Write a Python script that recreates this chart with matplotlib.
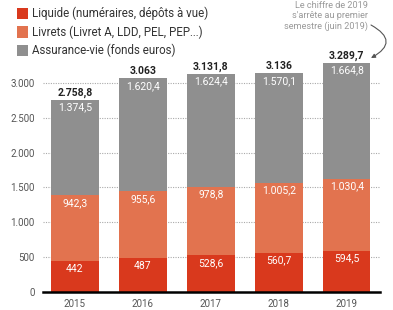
import matplotlib
matplotlib.use("Agg")
import matplotlib.pyplot as plt
from matplotlib.patches import Rectangle

plt.rcParams['font.family'] = ['Roboto', 'DejaVu Sans']

years = ["2015", "2016", "2017", "2018", "2019"]
liquide = [442, 487, 528.6, 560.7, 594.5]
livrets = [942.3, 955.6, 978.8, 1005.2, 1030.4]
assurance = [1374.5, 1620.4, 1624.4, 1570.1, 1664.8]
liquide_lbl = ["442", "487", "528,6", "560,7", "594,5"]
livrets_lbl = ["942,3", "955,6", "978,8", "1.005,2", "1.030,4"]
assurance_lbl = ["1.374,5", "1.620,4", "1.624,4", "1.570,1", "1.664,8"]
totals_lbl = ["2.758,8", "3.063", "3.131,8", "3.136", "3.289,7"]
yticks = [0, 500, 1000, 1500, 2000, 2500, 3000]
ytick_lbl = ["0", "500", "1.000", "1.500", "2.000", "2.500", "3.000"]
series_names = ["Liquide (numéraires, dépôts à vue)",
                "Livrets (Livret A, LDD, PEL, PEP...)",
                "Assurance-vie (fonds euros)"]
colors = ["#d9391d", "#e2734f", "#8f8f8f"]

W, H = 393, 310
fig = plt.figure(figsize=(W / 100, H / 100), dpi=100)
ax = fig.add_axes([43/W, 18/H, 337/W, 244/H])

x = list(range(len(years)))
w = 0.7
bottom2 = liquide
bottom3 = [a + b for a, b in zip(liquide, livrets)]
tops = [a + b for a, b in zip(bottom3, assurance)]

ax.bar(x, liquide, w, color=colors[0], zorder=2)
ax.bar(x, livrets, w, bottom=bottom2, color=colors[1], zorder=2)
ax.bar(x, assurance, w, bottom=bottom3, color=colors[2], zorder=2)

for i in x:
    ax.annotate(liquide_lbl[i], (i, liquide[i]), xytext=(0, -2), textcoords="offset points",
                ha="center", va="top", color="white", fontsize=7.5, zorder=3)
    ax.annotate(livrets_lbl[i], (i, bottom3[i]), xytext=(0, -2), textcoords="offset points",
                ha="center", va="top", color="white", fontsize=7.5, zorder=3)
    ax.annotate(assurance_lbl[i], (i, tops[i]), xytext=(0, -2), textcoords="offset points",
                ha="center", va="top", color="white", fontsize=7.5, zorder=3)
    ax.annotate(totals_lbl[i], (i, tops[i]), xytext=(0, 1.5), textcoords="offset points",
                ha="center", va="bottom", color="#222222", fontsize=7.5,
                fontweight="bold", zorder=3)

ax.set_xlim(-0.47, 4.49)
ax.set_ylim(0, 3500)
ax.set_yticks(yticks)
ax.set_yticklabels(ytick_lbl)
ax.set_xticks(x)
ax.set_xticklabels(years)
ax.tick_params(axis="both", length=0, labelsize=7, colors="#555555")
ax.tick_params(axis="y", pad=6)
ax.tick_params(axis="x", pad=5)
for s in ["top", "right", "left"]:
    ax.spines[s].set_visible(False)
ax.spines["bottom"].set_color("black")
ax.spines["bottom"].set_linewidth(1.8)
ax.spines["bottom"].set_zorder(4)
for yv in yticks[1:]:
    ax.axhline(yv, color="#aaaaaa", linestyle=(0, (1, 1.2)), linewidth=0.8, zorder=1)
ax.set_xlim(-0.47, 4.49)

# legend drawn manually in figure pixels
leg_top = [8, 26.5, 45]
for c, name, ty in zip(colors, series_names, leg_top):
    fig.patches.append(Rectangle((17/W, 1 - (ty + 11)/H), 11/W, 11/H, facecolor=c,
                                 edgecolor="none", transform=fig.transFigure, figure=fig))
    fig.text(32/W, 1 - (ty + 5.5)/H, name, ha="left", va="center", fontsize=8.3,
             color="#333333")

fig.text(368/W, 1 - 1/H, "Le chiffre de 2019\ns'arrête au premier\nsemestre (juin 2019)",
         ha="right", va="top", fontsize=6.6, color="#999999", linespacing=1.2)
ax.annotate("", xy=(371, H - 58), xytext=(371, H - 25), xycoords="figure pixels",
            textcoords="figure pixels",
            arrowprops=dict(arrowstyle="-|>", color="#555555", lw=0.8,
                            connectionstyle="arc3,rad=-0.9", mutation_scale=6,
                            shrinkA=0, shrinkB=0))

fig.savefig("out.png", dpi=100)
